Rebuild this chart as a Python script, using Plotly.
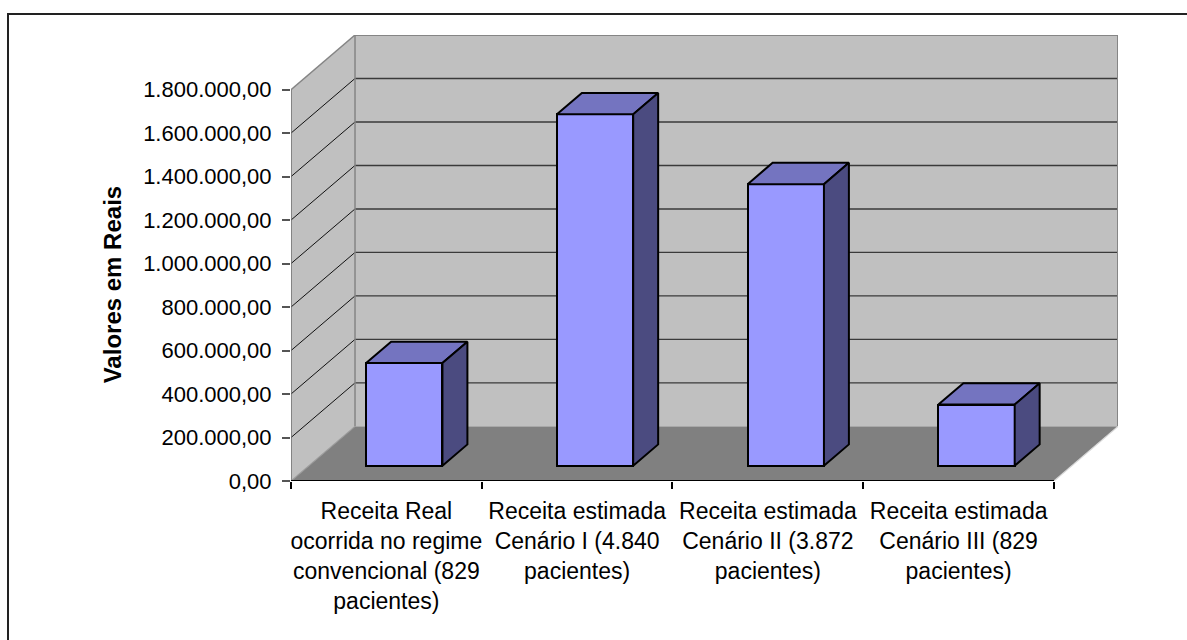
import plotly.graph_objects as go

# Data
categories = [
    "Receita Real<br>ocorrida no regime<br>convencional (829<br>pacientes)",
    "Receita estimada<br>Cenário I (4.840<br>pacientes)",
    "Receita estimada<br>Cenário II (3.872<br>pacientes)",
    "Receita estimada<br>Cenário III (829<br>pacientes)",
]
receitas = [472000, 1616000, 1295000, 281000]
y_ticks = [0, 200000, 400000, 600000, 800000, 1000000, 1200000, 1400000, 1600000, 1800000]
y_title = "Valores em Reais"

# Oblique projection of the depth axis (x in category units, y in value units)
DEPTH_X = 0.3356
DEPTH_Y = 251300
Y_MAX = y_ticks[-1]
N = len(categories)
X0, X1 = -0.5, N - 0.5
BAR_HALF = 0.2
D_FRONT, D_BACK = 0.28, 0.67

FONT = "Liberation Sans, Arial, sans-serif"
WALL = "#C0C0C0"
FLOOR = "#808080"
EDGE = "#858585"
BAR_FRONT = "#9999FF"
BAR_TOP = "#7474C0"
BAR_SIDE = "#4B4B80"


def proj(x, y, d):
    return x + d * DEPTH_X, y + d * DEPTH_Y


def path(points):
    return "M " + " L ".join(f"{x},{y}" for x, y in points) + " Z"


shapes = []
# floor, left wall, back wall
floor = [proj(X0, 0, 0), proj(X1, 0, 0), proj(X1, 0, 1), proj(X0, 0, 1)]
side = [proj(X0, 0, 0), proj(X0, Y_MAX, 0), proj(X0, Y_MAX, 1), proj(X0, 0, 1)]
back = [proj(X0, 0, 1), proj(X1, 0, 1), proj(X1, Y_MAX, 1), proj(X0, Y_MAX, 1)]
for pts, fill in [(floor, FLOOR), (side, WALL), (back, WALL)]:
    shapes.append(dict(type="path", xref="x", yref="y", path=path(pts),
                       fillcolor=fill, line=dict(width=0), layer="below"))


def seg(p, q, color, width):
    shapes.append(dict(type="line", xref="x", yref="y", x0=p[0], y0=p[1],
                       x1=q[0], y1=q[1], line=dict(color=color, width=width),
                       layer="below"))


# gridlines on back wall and left wall
for v in y_ticks[1:-1]:
    seg(proj(X0, v, 1), proj(X1, v, 1), "#3a3a3a", 1.4)
    seg(proj(X0, v, 0), proj(X0, v, 1), "#111111", 1)

# wall and floor edges
seg(proj(X0, Y_MAX, 1), proj(X1, Y_MAX, 1), EDGE, 2)
seg(proj(X1, 0, 1), proj(X1, Y_MAX, 1), EDGE, 2)
seg(proj(X0, 0, 1), proj(X0, Y_MAX, 1), EDGE, 1.5)
seg(proj(X0, Y_MAX, 0), proj(X0, Y_MAX, 1), EDGE, 1.5)
seg(proj(X0, 0, 0), proj(X0, Y_MAX, 0), "#707070", 1.5)
seg(proj(X0, 0, 0), proj(X0, 0, 1), "#9a9a9a", 1.2)
seg(proj(X1, 0, 0), proj(X1, 0, 1), "#d8d8d8", 1.2)

# outer frame
shapes.append(dict(type="rect", xref="paper", yref="paper",
                   x0=(8 - 291) / 827, x1=1.3, y0=-0.6, y1=(640 - 14 - 159) / 446,
                   line=dict(color="#222222", width=2), fillcolor="rgba(0,0,0,0)",
                   layer="above"))

fig = go.Figure()

# front faces of the columns
xs = [i for i in range(N)]
fig.add_trace(go.Bar(
    x=[proj(x, 0, D_FRONT)[0] for x in xs],
    y=receitas,
    base=[proj(x, 0, D_FRONT)[1] for x in xs],
    width=2 * BAR_HALF,
    marker=dict(color=BAR_FRONT, line=dict(color="black", width=2)),
    hoverinfo="skip", showlegend=False,
))

# top and side faces of the columns
for x, v in zip(xs, receitas):
    xl, xr = x - BAR_HALF, x + BAR_HALF
    top = [proj(xl, v, D_FRONT), proj(xr, v, D_FRONT), proj(xr, v, D_BACK), proj(xl, v, D_BACK)]
    rside = [proj(xr, 0, D_FRONT), proj(xr, v, D_FRONT), proj(xr, v, D_BACK), proj(xr, 0, D_BACK)]
    for pts, col in [(top, BAR_TOP), (rside, BAR_SIDE)]:
        fig.add_trace(go.Scatter(
            x=[p[0] for p in pts] + [pts[0][0]],
            y=[p[1] for p in pts] + [pts[0][1]],
            mode="lines", fill="toself", fillcolor=col,
            line=dict(color="black", width=2),
            hoverinfo="skip", showlegend=False,
        ))

# front edge of the floor (category axis line) with boundary ticks
fig.add_trace(go.Scatter(
    x=[X0, X1], y=[0, 0], xaxis="x2", yaxis="y", mode="lines",
    line=dict(color="black", width=2), hoverinfo="skip", showlegend=False,
))

x_range = [X0, X1 + DEPTH_X]
fig.update_layout(
    width=1187, height=640, autosize=False,
    margin=dict(l=291, r=69, t=35, b=159, pad=0),
    paper_bgcolor="white", plot_bgcolor="rgba(0,0,0,0)",
    separators=",.",
    shapes=shapes,
    bargap=0,
    xaxis=dict(range=x_range, showgrid=False, zeroline=False, showline=False,
               tickmode="array", tickvals=xs, ticktext=categories, ticks="",
               ticklabelstandoff=14,
               tickfont=dict(family=FONT, size=23, color="black")),
    xaxis2=dict(range=x_range, overlaying="x", anchor="y", side="bottom",
                showgrid=False, zeroline=False, showline=False,
                tickmode="array", tickvals=[X0 + i for i in range(N + 1)],
                ticks="outside", ticklen=7, tickwidth=1.5, tickcolor="black",
                showticklabels=False),
    yaxis=dict(range=[0, Y_MAX + DEPTH_Y], showgrid=False, zeroline=False,
               showline=False, tickmode="array", tickvals=y_ticks,
               tickformat=",.2f", ticks="outside", ticklen=8, tickwidth=1.5,
               tickcolor="#555555", ticklabelstandoff=6,
               tickfont=dict(family=FONT, size=22, color="black")),
    annotations=[dict(text=f"<b>{y_title}</b>", xref="paper", yref="y",
                      x=(112 - 291) / 827, y=Y_MAX / 2, textangle=-90,
                      showarrow=False, xanchor="center", yanchor="middle",
                      font=dict(family=FONT, size=24, color="black"))],
)

fig.write_html("out.html")
